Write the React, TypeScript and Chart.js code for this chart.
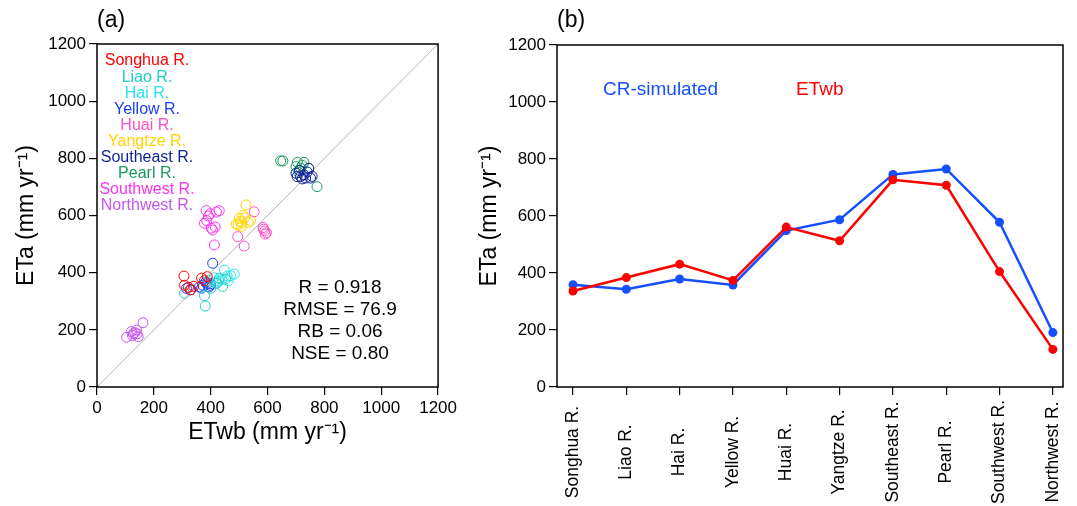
import React, { useEffect, useRef } from "react";
import { Chart, registerables } from "chart.js";

Chart.register(...registerables);

const FONT = "'Liberation Sans', Arial, Helvetica, sans-serif";

// ---------- Panel (a) data ----------
const rivers = ["Songhua R.", "Liao R.", "Hai R.", "Yellow R.", "Huai R.", "Yangtze R.", "Southeast R.", "Pearl R.", "Southwest R.", "Northwest R."];
const riverColors = ["#ff0000", "#1fcfc0", "#22e6f0", "#1a3cff", "#ff4fc4", "#ffd400", "#0c1f9a", "#1b9a5c", "#ff33f0", "#c455f2"];

const songhuaX = [306, 308, 322, 330, 368, 388, 340, 378];
const songhuaY = [388, 356, 349, 340, 381, 386, 352, 372];
const liaoX = [308, 381, 378, 392, 420, 442, 452, 400, 430];
const liaoY = [328, 283, 319, 372, 362, 352, 378, 345, 380];
const haiX = [448, 483, 458, 440, 428, 412, 422, 462, 470];
const haiY = [409, 395, 388, 376, 372, 382, 366, 372, 390];
const yellowX = [315, 328, 360, 372, 388, 398, 407, 394, 368, 382, 400];
const yellowY = [345, 340, 350, 356, 362, 356, 433, 350, 346, 366, 362];
const huaiX = [495, 518, 553, 586, 592, 590, 584, 596];
const huaiY = [526, 493, 613, 552, 535, 546, 558, 540];
const yangtzeX = [524, 496, 505, 510, 520, 532, 500, 514, 540, 490, 508];
const yangtzeY = [637, 567, 580, 574, 592, 576, 590, 600, 582, 570, 562];
const southeastX = [745, 751, 704, 728, 734, 700, 716, 757, 740, 712, 722];
const southeastY = [765, 731, 736, 742, 731, 748, 736, 737, 752, 758, 728];
const pearlX = [646, 654, 700, 705, 728, 716, 774, 710, 745, 722];
const pearlY = [791, 791, 771, 786, 786, 766, 701, 750, 765, 775];
const southwestX = [384, 430, 413, 378, 407, 398, 416, 392, 386, 420, 402];
const southwestY = [617, 617, 497, 573, 549, 606, 560, 598, 582, 612, 556];
const northwestX = [104, 162, 121, 139, 145, 133, 128, 141, 125];
const northwestY = [174, 225, 194, 199, 176, 190, 186, 186, 180];

const scatterX = [songhuaX, liaoX, haiX, yellowX, huaiX, yangtzeX, southeastX, pearlX, southwestX, northwestX];
const scatterY = [songhuaY, liaoY, haiY, yellowY, huaiY, yangtzeY, southeastY, pearlY, southwestY, northwestY];

const oneToOne = [0, 1200];
const statLines = ["R = 0.918", "RMSE = 76.9", "RB = 0.06", "NSE = 0.80"];

// ---------- Panel (b) data ----------
const categories = ["Songhua R.", "Liao R.", "Hai R.", "Yellow R.", "Huai R.", "Yangtze R.", "Southeast R.", "Pearl R.", "Southwest R.", "Northwest R."];
const crSimulated = [359, 343, 379, 358, 549, 587, 746, 765, 578, 191];
const etwbSeries = [337, 384, 431, 374, 561, 513, 727, 708, 405, 132];

const axisMin = 0;
const axisMax = 1200;
const axisStep = 200;

const yTitle = "ETa (mm yr\u207B\u00B9)";
const xTitle = "ETwb (mm yr\u207B\u00B9)";

const tickFont = { family: FONT, size: 17 };
const titleFont = { family: FONT, size: 23 };
const plainTick = (v: any) => String(v);

function boxPlugin(id: string) {
  return {
    id,
    afterDraw(chart: any) {
      const { ctx, chartArea: a } = chart;
      ctx.save();
      ctx.strokeStyle = "#000";
      ctx.lineWidth = 1.5;
      ctx.strokeRect(a.left, a.top, a.right - a.left, a.bottom - a.top);
      ctx.restore();
    },
  };
}

const panelAText = {
  id: "panelAText",
  afterDraw(chart: any) {
    const { ctx, chartArea: a } = chart;
    ctx.save();
    ctx.textBaseline = "middle";
    ctx.textAlign = "left";
    ctx.fillStyle = "#000";
    ctx.font = `23px ${FONT}`;
    ctx.fillText("(a)", a.left, 21);
    // legend of rivers
    ctx.font = `16px ${FONT}`;
    ctx.textAlign = "center";
    rivers.forEach((r, i) => {
      ctx.fillStyle = riverColors[i];
      ctx.fillText(r, a.left + 50, a.top + 17 + i * 16.1);
    });
    // statistics
    ctx.fillStyle = "#000";
    ctx.font = `19px ${FONT}`;
    statLines.forEach((s, i) => {
      ctx.fillText(s, a.left + 243, a.top + 244 + i * 22);
    });
    ctx.restore();
  },
};

const panelBText = {
  id: "panelBText",
  afterDraw(chart: any) {
    const { ctx, chartArea: a, scales } = chart;
    ctx.save();
    ctx.textBaseline = "middle";
    ctx.textAlign = "left";
    ctx.fillStyle = "#000";
    ctx.font = `23px ${FONT}`;
    ctx.fillText("(b)", a.left, 21);
    ctx.font = `19px ${FONT}`;
    ctx.fillStyle = "#1450ff";
    ctx.fillText("CR-simulated", a.left + 46, a.top + 45);
    ctx.fillStyle = "#ff0000";
    ctx.fillText("ETwb", a.left + 239, a.top + 45);
    // category labels, rotated
    ctx.fillStyle = "#000";
    ctx.font = `17.5px ${FONT}`;
    ctx.textAlign = "center";
    categories.forEach((c, i) => {
      const px = scales.x.getPixelForValue(i);
      ctx.save();
      ctx.translate(px, a.bottom + 65);
      ctx.rotate(-Math.PI / 2);
      ctx.fillText(c, 0, 0);
      ctx.restore();
    });
    ctx.restore();
  },
};

const gridOpts = {
  drawOnChartArea: false,
  drawTicks: true,
  tickLength: 8,
  color: "#000",
  lineWidth: 1.2,
};

export default function App() {
  const refA = useRef<HTMLCanvasElement>(null);
  const refB = useRef<HTMLCanvasElement>(null);

  useEffect(() => {
    Chart.defaults.font.family = FONT;
    Chart.defaults.color = "#000";

    const scatterSets: any[] = rivers.map((r, i) => ({
      type: "scatter",
      label: r,
      data: scatterX[i].map((x, j) => ({ x, y: scatterY[i][j] })),
      borderColor: riverColors[i],
      backgroundColor: "rgba(0,0,0,0)",
      pointRadius: 5,
      pointBorderWidth: 1,
      pointStyle: "circle",
      showLine: false,
      order: 1,
    }));
    scatterSets.push({
      type: "scatter",
      label: "1:1",
      data: oneToOne.map((v) => ({ x: v, y: v })),
      showLine: true,
      borderColor: "#b4b4b4",
      borderWidth: 1,
      pointRadius: 0,
      order: 10,
    });

    const chA = new Chart(refA.current!, {
      type: "scatter",
      data: { datasets: scatterSets },
      options: {
        animation: false,
        responsive: false,
        devicePixelRatio: 1,
        layout: { padding: { left: 9, top: 44, right: 20, bottom: 56 } },
        plugins: { legend: { display: false }, tooltip: { enabled: false } },
        scales: {
          x: {
            type: "linear",
            min: axisMin,
            max: axisMax,
            ticks: { stepSize: axisStep, font: tickFont, color: "#000", padding: 3, maxRotation: 0, callback: plainTick },
            grid: gridOpts,
            border: { display: false },
            title: { display: true, text: xTitle, font: titleFont, color: "#000", padding: 4 },
            afterFit: (s: any) => { s.height = 63; },
          },
          y: {
            type: "linear",
            min: axisMin,
            max: axisMax,
            ticks: { stepSize: axisStep, font: tickFont, color: "#000", padding: 3, callback: plainTick },
            grid: gridOpts,
            border: { display: false },
            title: { display: true, text: yTitle, font: titleFont, color: "#000", padding: 4 },
            afterFit: (s: any) => { s.width = 88; },
          },
        },
      } as any,
      plugins: [boxPlugin("boxA"), panelAText],
    });

    const chB = new Chart(refB.current!, {
      type: "line",
      data: {
        datasets: [
          {
            label: "CR-simulated",
            data: crSimulated.map((y, i) => ({ x: i, y })),
            borderColor: "#1450ff",
            backgroundColor: "#1450ff",
            borderWidth: 2.5,
            pointRadius: 4.5,
            pointBorderWidth: 0,
            tension: 0,
            order: 2,
          },
          {
            label: "ETwb",
            data: etwbSeries.map((y, i) => ({ x: i, y })),
            borderColor: "#ff0000",
            backgroundColor: "#ff0000",
            borderWidth: 2.5,
            pointRadius: 4.5,
            pointBorderWidth: 0,
            tension: 0,
            order: 1,
          },
        ],
      },
      options: {
        animation: false,
        responsive: false,
        devicePixelRatio: 1,
        layout: { padding: { left: 12, top: 45, right: 14, bottom: 0 } },
        plugins: { legend: { display: false }, tooltip: { enabled: false } },
        scales: {
          x: {
            type: "linear",
            min: -0.3,
            max: 9.19,
            ticks: { display: false },
            afterBuildTicks: (axis: any) => {
              axis.ticks = categories.map((_, i) => ({ value: i }));
            },
            grid: gridOpts,
            border: { display: false },
            afterFit: (s: any) => { s.height = 119; },
          },
          y: {
            type: "linear",
            min: axisMin,
            max: axisMax,
            ticks: { stepSize: axisStep, font: tickFont, color: "#000", padding: 3, callback: plainTick },
            grid: gridOpts,
            border: { display: false },
            title: { display: true, text: yTitle, font: titleFont, color: "#000", padding: 4 },
            afterFit: (s: any) => { s.width = 85; },
          },
        },
      } as any,
      plugins: [boxPlugin("boxB"), panelBText],
    });

    return () => {
      chA.destroy();
      chB.destroy();
    };
  }, []);

  return (
    <div style={{ position: "absolute", left: 0, top: 0, width: 1077, height: 506, background: "#fff" }}>
      <div style={{ position: "absolute", left: 0, top: 0, width: 460, height: 506 }}>
        <canvas ref={refA} width={460} height={506} style={{ display: "block" }} />
      </div>
      <div style={{ position: "absolute", left: 460, top: 0, width: 617, height: 506 }}>
        <canvas ref={refB} width={617} height={506} style={{ display: "block" }} />
      </div>
    </div>
  );
}
